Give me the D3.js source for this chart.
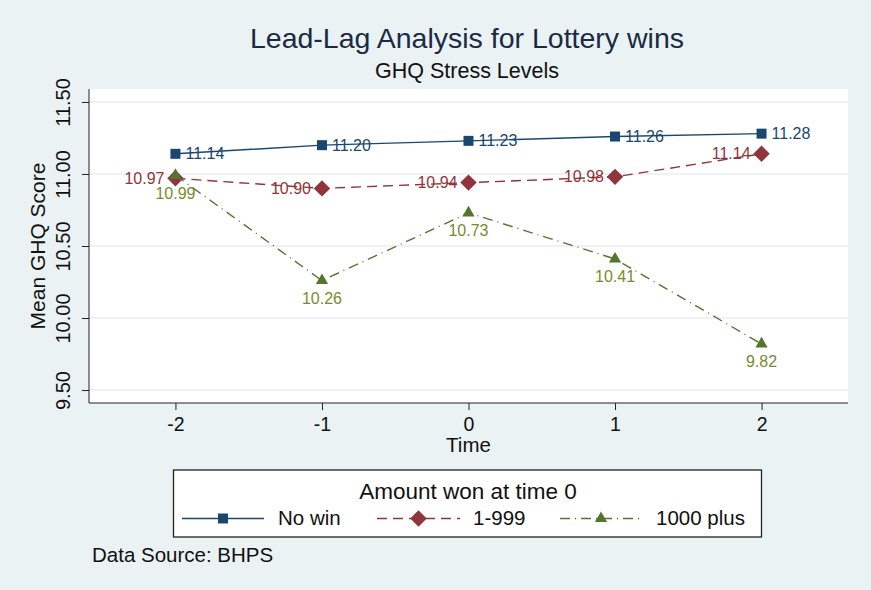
<!DOCTYPE html>
<html>
<head>
<meta charset="utf-8">
<script src="https://cdn.jsdelivr.net/npm/d3@7"></script>
<style>
    body { margin: 0; background: #eaf2f3; }
    text { font-family: "Liberation Sans", Arial, sans-serif; }
</style>
</head>
<body>
<script>
// Chart data
var times = [-2, -1, 0, 1, 2];
var noWin = [11.14, 11.20, 11.23, 11.26, 11.28];
var smallWin = [10.97, 10.90, 10.94, 10.98, 11.14];
var bigWin = [10.99, 10.26, 10.73, 10.41, 9.82];
var yTicks = [9.5, 10.0, 10.5, 11.0, 11.5];
var seriesNames = ["No win", "1-999", "1000 plus"];

var svgWidth = 871, svgHeight = 590;
var plot = { left: 89, right: 848, top: 89, bottom: 403 };

var svg = d3.select("body").append("svg")
    .attr("width", svgWidth)
    .attr("height", svgHeight);

// Graph region background
svg.append("rect")
    .attr("width", svgWidth).attr("height", svgHeight)
    .attr("fill", "#eaf2f3");

svg.append("rect")
    .attr("x", plot.left).attr("y", plot.top)
    .attr("width", plot.right - plot.left)
    .attr("height", plot.bottom - plot.top)
    .attr("fill", "#ffffff");

var xScale = d3.scaleLinear().domain([-2.59, 2.59]).range([plot.left, plot.right]);
var yScale = d3.scaleLinear().domain([9.41, 11.59]).range([plot.bottom, plot.top]);

// Gridlines
svg.append("g")
    .selectAll("line")
    .data(yTicks)
    .enter().append("line")
    .attr("x1", plot.left).attr("x2", plot.right)
    .attr("y1", d => yScale(d)).attr("y2", d => yScale(d))
    .attr("stroke", "#e6eef2")
    .attr("stroke-width", 1.5);

// Y axis
var yAxis = svg.append("g")
    .attr("transform", `translate(${plot.left},0)`)
    .call(d3.axisLeft(yScale).tickValues(yTicks).tickSize(7).tickFormat(d3.format(".2f")));
yAxis.select(".domain").attr("stroke", "#222").attr("d", `M0,${plot.top}V${plot.bottom}`);
yAxis.selectAll(".tick line").attr("stroke", "#222");
yAxis.selectAll(".tick text")
    .attr("font-size", 20)
    .attr("fill", "#111")
    .attr("font-family", "Liberation Sans, Arial, sans-serif")
    .attr("text-anchor", "middle")
    .attr("dy", 0)
    .attr("x", -26)
    .attr("y", 0)
    .attr("transform", "rotate(-90, -26, 0)")
    .attr("dominant-baseline", "central");

// X axis
var xAxis = svg.append("g")
    .attr("transform", `translate(0,${plot.bottom})`)
    .call(d3.axisBottom(xScale).tickValues(times).tickSize(7).tickPadding(7));
xAxis.select(".domain").attr("stroke", "#222").attr("d", `M${plot.left},0H${plot.right}`);
xAxis.selectAll(".tick line").attr("stroke", "#222");
xAxis.selectAll(".tick text")
    .attr("font-size", 19.5)
    .attr("fill", "#111")
    .attr("font-family", "Liberation Sans, Arial, sans-serif")
    .text(d => d < 0 ? "-" + Math.abs(d) : d);

// Axis labels
svg.append("text")
    .attr("x", xScale(0)).attr("y", 452)
    .attr("text-anchor", "middle")
    .attr("font-size", 20.5)
    .attr("fill", "#111")
    .text("Time");

svg.append("text")
    .attr("transform", `translate(45, ${(plot.top + plot.bottom) / 2}) rotate(-90)`)
    .attr("text-anchor", "middle")
    .attr("font-size", 21)
    .attr("fill", "#111")
    .text("Mean GHQ Score");

// Titles
svg.append("text")
    .attr("x", 467).attr("y", 48)
    .attr("text-anchor", "middle")
    .attr("font-size", 28.5)
    .attr("fill", "#1a2a44")
    .text("Lead-Lag Analysis for Lottery wins");

svg.append("text")
    .attr("x", 467).attr("y", 78)
    .attr("text-anchor", "middle")
    .attr("font-size", 21.5)
    .attr("fill", "#111")
    .text("GHQ Stress Levels");

// Series definitions
var series = [
    { name: seriesNames[0], values: noWin, color: "#1a476f", label: "#1a476f", dash: null, marker: d3.symbolSquare, size: 100, rot: 0, pos: "right" },
    { name: seriesNames[1], values: smallWin, color: "#90353b", label: "#90353b", dash: "10,6", marker: d3.symbolSquare, size: 135, rot: 45, pos: "left" },
    { name: seriesNames[2], values: bigWin, color: "#55752f", label: "#7a8a30", dash: "10,5,1,5", marker: d3.symbolTriangle, size: 65, rot: 0, pos: "below" }
];

var line = d3.line()
    .x((d, i) => xScale(times[i]))
    .y(d => yScale(d));

series.forEach(function(s) {
    svg.append("path")
        .datum(s.values)
        .attr("d", line)
        .attr("fill", "none")
        .attr("stroke", s.color)
        .attr("stroke-width", 1.4)
        .attr("stroke-dasharray", s.dash);

    svg.selectAll(null)
        .data(s.values)
        .enter().append("path")
        .attr("d", d3.symbol().type(s.marker).size(s.size))
        .attr("transform", (d, i) => `translate(${xScale(times[i])},${yScale(d)}) rotate(${s.rot})`)
        .attr("fill", s.color);

    svg.selectAll(null)
        .data(s.values)
        .enter().append("text")
        .attr("x", (d, i) => xScale(times[i]) + (s.pos == "right" ? 10 : s.pos == "left" ? -11 : 0))
        .attr("y", d => yScale(d) + (s.pos == "below" ? 23.5 : 5.5))
        .attr("text-anchor", s.pos == "right" ? "start" : s.pos == "left" ? "end" : "middle")
        .attr("font-size", 16)
        .attr("fill", s.label)
        .text(d => d3.format(".2f")(d));
});

// Legend
var legend = svg.append("g");
legend.append("rect")
    .attr("x", 173.5).attr("y", 470)
    .attr("width", 588).attr("height", 67)
    .attr("fill", "#ffffff")
    .attr("stroke", "#222")
    .attr("stroke-width", 1.3);

legend.append("text")
    .attr("x", 468).attr("y", 499)
    .attr("text-anchor", "middle")
    .attr("font-size", 22.5)
    .attr("fill", "#111")
    .text("Amount won at time 0");

var legendItems = [
    { x1: 182, x2: 264, text: 278 },
    { x1: 377, x2: 460, text: 473 },
    { x1: 560, x2: 642, text: 656 }
];

series.forEach(function(s, i) {
    var item = legendItems[i];
    var ly = 518.5;
    legend.append("line")
        .attr("x1", item.x1).attr("x2", item.x2)
        .attr("y1", ly).attr("y2", ly)
        .attr("stroke", s.color)
        .attr("stroke-width", 1.4)
        .attr("stroke-dasharray", s.dash);
    legend.append("path")
        .attr("d", d3.symbol().type(s.marker).size(s.size))
        .attr("transform", `translate(${(item.x1 + item.x2) / 2},${ly}) rotate(${s.rot})`)
        .attr("fill", s.color);
    legend.append("text")
        .attr("x", item.text).attr("y", 525)
        .attr("font-size", 20.5)
        .attr("fill", "#111")
        .text(s.name);
});

// Note
svg.append("text")
    .attr("x", 92).attr("y", 562)
    .attr("font-size", 20.5)
    .attr("fill", "#111")
    .text("Data Source: BHPS");
</script>
</body>
</html>
